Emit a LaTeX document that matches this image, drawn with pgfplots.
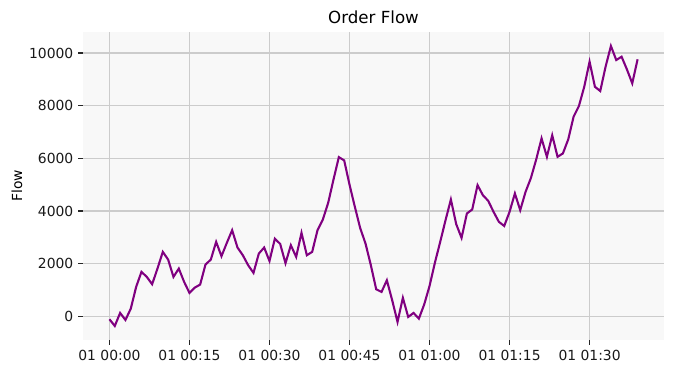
\documentclass[border=0pt]{standalone}
\usepackage{fontspec}
\setmainfont{DejaVu Sans}
\usepackage{pgfplots}
\pgfplotsset{compat=1.18}
\definecolor{bgcol}{RGB}{248,248,248}
\definecolor{gridcol}{RGB}{204,204,204}
\definecolor{linecol}{RGB}{128,0,128}
\begin{document}
\begin{tikzpicture}
\begin{axis}[
  at={(0,0)}, anchor=south west,
  scale only axis,
  width=418.3pt, height=221.8pt,
  xmin=-4.95, xmax=103.95,
  ymin=-900, ymax=10800,
  axis lines*=left,
  axis line style={draw=none},
  axis background/.style={fill=bgcol},
  grid=major,
  major grid style={color=gridcol, line width=0.8pt},
  tick align=outside,
  major tick length=3.5pt,
  tick style={color=black!85, line width=0.8pt},
  xtick={0,15,30,45,60,75,90},
  xticklabels={{01 00:00},{01 00:15},{01 00:30},{01 00:45},{01 01:00},{01 01:15},{01 01:30}},
  ytick={0,2000,4000,6000,8000,10000},
  scaled y ticks=false,
  yticklabel style={/pgf/number format/fixed, /pgf/number format/precision=0},
  /pgf/number format/assume math mode=true,
  /pgf/number format/1000 sep={},
  tick label style={font=\fontsize{10}{12}\selectfont, color=black!90},
  title={Order Flow},
  every axis title shift=0pt,
  title style={font=\fontsize{12}{14}\selectfont, at={(axis description cs:0.5,1)}, anchor=base, yshift=6pt},
  ylabel={Flow},
  ylabel style={font=\fontsize{10}{12}\selectfont, at={(axis description cs:-0.1138,0.5)}, anchor=center},
]
\addplot[color=linecol, line width=1.5pt, mark=none] coordinates {
(0,-114) (1,-368) (2,127) (3,-140) (4,291) (5,1115) (6,1686) (7,1496) (8,1217) (9,1812)
(10,2446) (11,2154) (12,1496) (13,1812) (14,1305) (15,887) (16,1090) (17,1204) (18,1964) (19,2154)
(20,2826) (21,2281) (22,2788) (23,3270) (24,2611) (25,2319) (26,1939) (27,1648) (28,2383) (29,2611)
(30,2100) (31,2945) (32,2750) (33,2015) (34,2699) (35,2256) (36,3168) (37,2319) (38,2446) (39,3270)
(40,3675) (41,4309) (42,5196) (43,6045) (44,5920) (45,5000) (46,4156) (47,3350) (48,2763) (49,1939)
(50,1025) (51,925) (52,1368) (53,608) (54,-215) (55,700) (56,-25) (57,127) (58,-89) (59,450)
(60,1150) (61,2030) (62,2826) (63,3650) (64,4436) (65,3500) (66,2978) (67,3904) (68,4056) (69,4981)
(70,4600) (71,4385) (72,3967) (73,3587) (74,3430) (75,3967) (76,4664) (77,4030) (78,4727) (79,5250)
(80,5960) (81,6756) (82,6056) (83,6875) (84,6056) (85,6186) (86,6720) (87,7578) (88,7984) (89,8718)
(90,9669) (91,8718) (92,8555) (93,9479) (94,10265) (95,9733) (96,9859) (97,9377) (98,8847) (99,9760)
};
\end{axis}
\pgfresetboundingbox
\useasboundingbox (-59.8pt,-24.5pt) rectangle (425.5pt,244.8pt);
\end{tikzpicture}
\end{document}
